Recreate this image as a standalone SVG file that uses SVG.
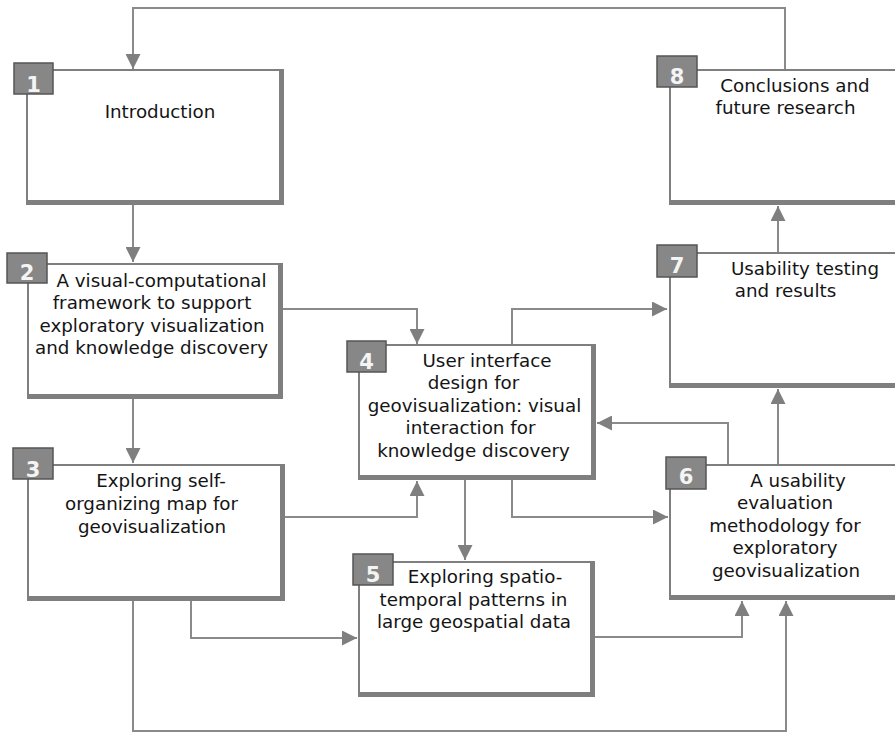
<svg xmlns="http://www.w3.org/2000/svg" width="895" height="733" viewBox="0 0 895 733">
  <style>
    .frame { fill: #7f7f7f; }
    .face { fill: #ffffff; }
    .badge { fill: #878787; stroke: #555555; stroke-width: 1.5; }
    .num { font-family: "DejaVu Sans", Verdana, sans-serif; font-weight: bold; font-size: 21px; fill: #f4f4f4; text-anchor: middle; }
    .lbl { font-family: "DejaVu Sans", Verdana, sans-serif; font-size: 18.3px; fill: #141414; text-anchor: middle; }
    .link { fill: none; stroke: #8a8a8a; stroke-width: 2; marker-end: url(#head); }
  </style>
  <defs>
    <marker id="head" markerUnits="userSpaceOnUse" markerWidth="15" markerHeight="15" refX="15" refY="7.5" orient="auto">
      <path d="M0,0 L15,7.5 L0,15 z" fill="#7f7f7f"/>
    </marker>
  </defs>
  <rect width="895" height="733" fill="#ffffff"/>

  <!-- connectors -->
  <g id="connectors">
    <path class="link" d="M785,69 V8 H133 V69"/>
    <path class="link" d="M133,205 V262"/>
    <path class="link" d="M133,399 V463"/>
    <path class="link" d="M283,309 H417 V344"/>
    <path class="link" d="M285,517 H417 V481"/>
    <path class="link" d="M191,601 V638 H357"/>
    <path class="link" d="M133,601 V731 H786 V601"/>
    <path class="link" d="M465,480 V560"/>
    <path class="link" d="M512,480 V517 H668"/>
    <path class="link" d="M512,344 V309 H667"/>
    <path class="link" d="M728,464 V423 H597"/>
    <path class="link" d="M778,464 V389"/>
    <path class="link" d="M778,252 V206"/>
    <path class="link" d="M595,637 H742 V601"/>
  </g>

  <!-- 1 -->
  <g id="node1">
    <rect class="frame" x="26" y="69" width="258" height="136"/>
    <rect class="face" x="28" y="71" width="251" height="129"/>
    <rect class="badge" x="14" y="63" width="39" height="31"/>
    <text class="num" x="33.5" y="91.5">1</text>
    <text class="lbl" x="160" y="118">Introduction</text>
  </g>

  <!-- 2 -->
  <g id="node2">
    <rect class="frame" x="27" y="263" width="256" height="136"/>
    <rect class="face" x="29" y="265" width="249" height="129"/>
    <rect class="badge" x="7" y="253" width="40" height="30"/>
    <text class="num" x="27" y="280">2</text>
    <text class="lbl" x="161.5" y="287">A visual-computational</text>
    <text class="lbl" x="152" y="309">framework to support</text>
    <text class="lbl" x="152" y="332">exploratory visualization</text>
    <text class="lbl" x="151.5" y="354">and knowledge discovery</text>
  </g>

  <!-- 3 -->
  <g id="node3">
    <rect class="frame" x="27" y="464" width="258" height="137"/>
    <rect class="face" x="29" y="466" width="251" height="130"/>
    <rect class="badge" x="13" y="448" width="40" height="31"/>
    <text class="num" x="33" y="477">3</text>
    <text class="lbl" x="161" y="487">Exploring self-</text>
    <text class="lbl" x="151.5" y="510">organizing map for</text>
    <text class="lbl" x="152" y="533">geovisualization</text>
  </g>

  <!-- 4 -->
  <g id="node4">
    <rect class="frame" x="358" y="344" width="238" height="136"/>
    <rect class="face" x="360" y="346" width="231" height="129"/>
    <rect class="badge" x="347" y="341" width="39" height="31"/>
    <text class="num" x="366.5" y="369">4</text>
    <text class="lbl" x="487" y="367">User interface</text>
    <text class="lbl" x="473.5" y="389">design for</text>
    <text class="lbl" x="474.5" y="412">geovisualization: visual</text>
    <text class="lbl" x="470.5" y="434">interaction for</text>
    <text class="lbl" x="473.5" y="457">knowledge discovery</text>
  </g>

  <!-- 5 -->
  <g id="node5">
    <rect class="frame" x="358" y="561" width="237" height="136"/>
    <rect class="face" x="360" y="563" width="230" height="129"/>
    <rect class="badge" x="353" y="554" width="40" height="31"/>
    <text class="num" x="373" y="582">5</text>
    <text class="lbl" x="485" y="583">Exploring spatio-</text>
    <text class="lbl" x="473.5" y="606">temporal patterns in</text>
    <text class="lbl" x="474" y="628">large geospatial data</text>
  </g>

  <!-- 6 -->
  <g id="node6">
    <rect class="frame" x="669" y="464" width="240" height="136"/>
    <rect class="face" x="671" y="466" width="233" height="129"/>
    <rect class="badge" x="666" y="457" width="40" height="32"/>
    <text class="num" x="686" y="484">6</text>
    <text class="lbl" x="798" y="487">A usability</text>
    <text class="lbl" x="785" y="509">evaluation</text>
    <text class="lbl" x="785" y="532">methodology for</text>
    <text class="lbl" x="785" y="554">exploratory</text>
    <text class="lbl" x="786" y="577">geovisualization</text>
  </g>

  <!-- 7 -->
  <g id="node7">
    <rect class="frame" x="669" y="252" width="240" height="136"/>
    <rect class="face" x="671" y="254" width="233" height="129"/>
    <rect class="badge" x="657" y="245" width="40" height="32"/>
    <text class="num" x="677" y="273">7</text>
    <text class="lbl" x="805" y="275">Usability testing</text>
    <text class="lbl" x="785.5" y="297">and results</text>
  </g>

  <!-- 8 -->
  <g id="node8">
    <rect class="frame" x="669" y="69" width="240" height="136"/>
    <rect class="face" x="671" y="71" width="233" height="129"/>
    <rect class="badge" x="657" y="56" width="40" height="31"/>
    <text class="num" x="677" y="83.5">8</text>
    <text class="lbl" x="795" y="92">Conclusions and</text>
    <text class="lbl" x="785.5" y="114">future research</text>
  </g>
</svg>
